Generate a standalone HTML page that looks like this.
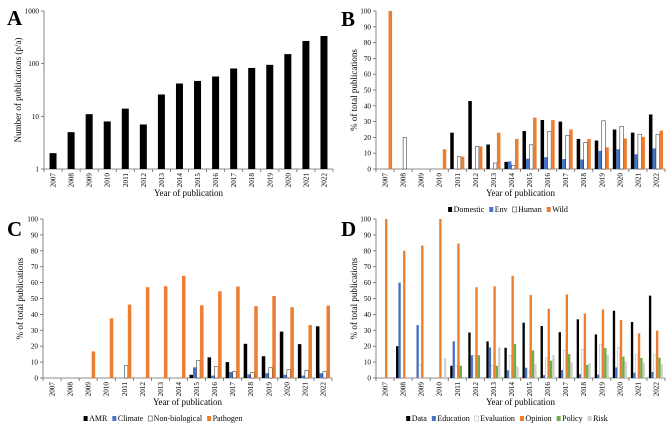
<!DOCTYPE html>
<html><head><meta charset="utf-8"><style>
html,body{margin:0;padding:0;background:#fff}
svg, svg text{font-family:"Liberation Serif","Times New Roman","DejaVu Serif",serif}
</style></head><body>
<svg id="chart" width="669" height="426" viewBox="0 0 669 426" xmlns="http://www.w3.org/2000/svg" font-family="Liberation Serif, DejaVu Serif, serif"></svg>
<script>
const years = ["2007","2008","2009","2010","2011","2012","2013","2014","2015","2016","2017","2018","2019","2020","2021","2022"];
// Panel A
const pubCounts = [2,5,11,8,14,7,26,42,47,57,81,83,95,152,270,335];
// Panel B
const bNames = ["Domestic","Env","Human","Wild"];
const bDomestic = [0,0,0,0,23,43,15.5,4.5,24,31,30,19,18,25,23,34.5];
const bEnv = [0,0,0,0,0,0,0,4.8,6.5,7.5,6.3,6,11.5,12.5,9.3,13];
const bHuman = [0,20,0,0,7.8,14.3,3.8,2.3,15.3,23.8,21.3,16.8,30.5,27,22,21.8];
const bWild = [100,0,0,12.5,7.8,14.3,23,19,32.5,31,25,19,13.7,19.3,20.3,24.3];
// Panel C
const cNames = ["AMR","Climate","Non-biological","Pathogen"];
const cAMR = [0,0,0,0,0,0,0,0,2,13,10,21.5,13.7,29.2,21.3,32.5];
const cClimate = [0,0,0,0,0,0,0,0,6.7,1.5,3.8,2.3,3,2,1.5,3];
const cNonBio = [0,0,0,0,7.8,0,0,0,11,7.3,4,3.5,6.5,5.3,4.8,4];
const cPathogen = [0,0,16.7,37.5,46.2,57.1,57.7,64.3,45.7,54.5,57.5,45.2,51.6,44.5,33.3,45.5];
// Panel D
const dNames = ["Data","Education","Evaluation","Opinion","Policy","Risk"];
const dData = [0,20,0,0,7.7,28.6,23,19,34.8,32.7,28.8,36.9,27.4,42.3,35.2,51.8];
const dEducation = [0,60,33.3,0,23.1,14.3,19.2,4.8,6.5,1.8,5,2.4,2.1,6.7,3.3,3.8];
const dEvaluation = [0,0,8.3,0,7.7,14.3,7.7,14.3,4.3,12.7,17.5,17.9,21.1,19.2,14.8,14.9];
const dOpinion = [100,80,83.3,100,84.6,57.1,57.7,64.3,52.2,43.6,52.5,40.5,43.2,36.5,28.1,29.8];
const dPolicy = [0,0,0,0,7.7,14.3,7.7,21.4,17.4,10.9,15,8.3,18.9,13.5,12.6,12.8];
const dRisk = [0,0,0,12.5,0,0,19.2,7.1,8.7,14.5,10,9.5,14.7,10.5,9.6,8.6];
const pctTicks = [0,10,20,30,40,50,60,70,80,90,100];
const logTicks = [1,10,100,1000];

const NS="http://www.w3.org/2000/svg";
const FONT="Liberation Serif, DejaVu Serif, serif";
const svg=document.getElementById('chart');
function mk(tag,attrs,parent,text){const e=document.createElementNS(NS,tag);for(const k in attrs)e.setAttribute(k,attrs[k]);if(text!==undefined){e.textContent=text;e.setAttribute('font-family',FONT);}(parent||svg).appendChild(e);return e;}

const styles={black:{fill:"#000",stroke:"none"},blue:{fill:"#4472c4",stroke:"none"},white:{fill:"#fff",stroke:"#222"},orange:{fill:"#ed7d31",stroke:"none"},green:{fill:"#70ad47",stroke:"none"},gray:{fill:"#d0d0d0",stroke:"none"},wgray:{fill:"#fff",stroke:"#aaa"}};

function panel(o){
  const g=mk('g',{},svg);
  
  
  const band=(o.x1-o.x0)/years.length;
  const xc=i=>o.x0+band*(i+0.5);
  const y=o.scale;
  const L=mk('text',{x:o.lx,y:o.ly,'font-size':21,'font-weight':'bold'},g,o.letter);
  
  const ya=mk('line',{x1:o.x0,x2:o.x0,y1:o.yTop,y2:o.yBot,stroke:'#666','stroke-width':0.8},g);
  
  const xa=mk('line',{x1:o.x0,x2:o.x1,y1:o.yBot,y2:o.yBot,stroke:'#666','stroke-width':0.8},g);
  
  o.ticks.forEach(t=>{
    const yy=y(t);
    mk('line',{x1:o.x0-3,x2:o.x0,y1:yy,y2:yy,stroke:'#666','stroke-width':0.8},g);
    const tl=mk('text',{x:o.x0-5,y:yy+2.5,'font-size':7.2,'text-anchor':'end'},g,String(t));
    
  });
  for(let i=0;i<=years.length;i++){const xx=o.x0+band*i;mk('line',{x1:xx,x2:xx,y1:o.yBot,y2:o.yBot+3,stroke:'#666','stroke-width':0.8},g);}
  years.forEach((yr,i)=>{
    const tx=xc(i)+2.5, ty=o.yBot+4;
    const t=mk('text',{x:tx,y:ty,'font-size':7.2,'text-anchor':'end',transform:`rotate(-90 ${tx} ${ty})`},g,yr);
    
  });
  const xt=mk('text',{x:(o.x0+o.x1)/2,y:o.yBot+27,'font-size':9,'text-anchor':'middle'},g,'Year of publication');
  
  const yc=(o.yTop+o.yBot)/2;
  const yt=mk('text',{x:o.ytx,y:yc,'font-size':9,'text-anchor':'middle',transform:`rotate(-90 ${o.ytx} ${yc})`},g,o.ytitle);
  
  const n=o.series.length;
  const bw=o.barW||(band*0.78/n);
  o.series.forEach((s,si)=>{
    s.values.forEach((v,i)=>{
      if(!(v>0))return;
      const left=xc(i)-bw*n/2+bw*si;
      const top=y(v);
      const st=styles[s.style];
      const r=mk('rect',{x:left,y:top,width:bw,height:Math.max(0,o.yBot-top),fill:st.fill,stroke:st.stroke,'stroke-width':0.5},g);
      
      
    });
  });
  if(o.legend){
    const lg=mk('g',{},g);
    
    let cx=0;
    o.series.forEach(s=>{
      const st=styles[s.style];
      const it=mk('g',{},lg);
      
      mk('rect',{x:cx,y:-5,width:4,height:5,fill:st.fill,stroke:st.stroke,'stroke-width':0.5},it);
      const t=mk('text',{x:cx+5.5,y:0,'font-size':8},it,s.name);
      cx+=5.5+t.getComputedTextLength()+5;
    });
    lg.setAttribute('transform',`translate(${o.legCx-(cx-5)/2},${o.legY})`);
  }
}

const aTop=11,aBot=169;
panel({id:'panel-a',letter:'A',lx:7,ly:25,x0:44,x1:333,yTop:aTop,yBot:aBot,
  scale:v=>aBot-(Math.log10(v)/3)*(aBot-aTop),ticks:logTicks,ytx:21,ytitle:'Number of publications (p/a)',
  barW:7,series:[{name:'Publications',values:pubCounts,style:'black'}]});
function lin(top,bot){return v=>bot-v/100*(bot-top);}
panel({id:'panel-b',letter:'B',lx:341,ly:26,x0:376,x1:665,yTop:11,yBot:169,scale:lin(11,169),ticks:pctTicks,
  ytx:357,ytitle:'% of total publications',legend:true,legCx:508,legY:212,
  series:[{name:'Domestic',values:bDomestic,style:'black'},{name:'Env',values:bEnv,style:'blue'},{name:'Human',values:bHuman,style:'white'},{name:'Wild',values:bWild,style:'orange'}]});
panel({id:'panel-c',letter:'C',lx:7,ly:236,x0:43,x1:332,yTop:219,yBot:378,scale:lin(219,378),ticks:pctTicks,
  ytx:23,ytitle:'% of total publications',legend:true,legCx:163,legY:421,
  series:[{name:'AMR',values:cAMR,style:'black'},{name:'Climate',values:cClimate,style:'blue'},{name:'Non-biological',values:cNonBio,style:'white'},{name:'Pathogen',values:cPathogen,style:'orange'}]});
panel({id:'panel-d',letter:'D',lx:341,ly:236,x0:376,x1:665,yTop:219,yBot:378,scale:lin(219,378),ticks:pctTicks,
  ytx:357,ytitle:'% of total publications',legend:true,legCx:507,legY:421,
  series:[{name:'Data',values:dData,style:'black'},{name:'Education',values:dEducation,style:'blue'},{name:'Evaluation',values:dEvaluation,style:'wgray'},{name:'Opinion',values:dOpinion,style:'orange'},{name:'Policy',values:dPolicy,style:'green'},{name:'Risk',values:dRisk,style:'gray'}]});
</script>
</body></html>
